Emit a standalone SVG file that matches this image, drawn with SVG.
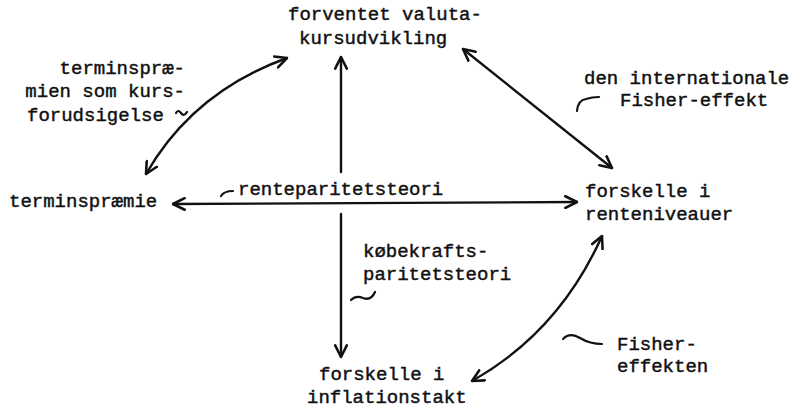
<svg xmlns="http://www.w3.org/2000/svg" width="804" height="409" viewBox="0 0 804 409">
  <style>
    .t { font-family: "Liberation Mono", "DejaVu Sans Mono", monospace; font-size: 19px; fill: #111; stroke: #111; stroke-width: 0.45; }
    .c { fill: none; stroke: #111; stroke-width: 2.4; stroke-linecap: round; }
    .sw { fill: none; stroke: #111; stroke-width: 2.2; stroke-linecap: round; stroke-linejoin: round; }
  </style>
  <defs>
    <marker id="head" viewBox="0 0 12 12" refX="11" refY="6" markerWidth="14" markerHeight="14" markerUnits="userSpaceOnUse" orient="auto-start-reverse">
      <path d="M1,1 L11,6 L1,11" fill="none" stroke="#111" stroke-width="2.2" stroke-linecap="round" stroke-linejoin="round"/>
    </marker>
  </defs>
  <rect width="804" height="409" fill="#fff"/>

  <g id="connectors">
    <!-- terminspræmie <-> forventet valutakursudvikling -->
    <path class="c" d="M146,174 Q193,92 287,58" marker-start="url(#head)" marker-end="url(#head)"/>
    <!-- upward arrow to forventet valutakursudvikling -->
    <path class="c" d="M341,172 L341,57" marker-end="url(#head)"/>
    <!-- forventet valutakursudvikling <-> forskelle i renteniveauer -->
    <path class="c" d="M463,49 L612,168" marker-start="url(#head)" marker-end="url(#head)"/>
    <!-- terminspræmie <-> forskelle i renteniveauer -->
    <path class="c" d="M173,204 L577,202" marker-start="url(#head)" marker-end="url(#head)"/>
    <!-- downward arrow to forskelle i inflationstakt -->
    <path class="c" d="M341,214 L341,357" marker-end="url(#head)"/>
    <!-- forskelle i inflationstakt <-> forskelle i renteniveauer -->
    <path class="c" d="M472,381 Q559,332 602,236" marker-start="url(#head)" marker-end="url(#head)"/>
  </g>

  <g id="forventet">
    <text class="t" x="288" y="20">forventet valuta-</text>
    <text class="t" x="299" y="44">kursudvikling</text>
  </g>

  <g id="terminspraemie">
    <text class="t" x="9" y="207">terminspræmie</text>
  </g>

  <g id="renteniveauer">
    <text class="t" x="585" y="197">forskelle i</text>
    <text class="t" x="585" y="220">renteniveauer</text>
  </g>

  <g id="inflationstakt">
    <text class="t" x="319" y="380">forskelle i</text>
    <text class="t" x="307" y="403">inflationstakt</text>
  </g>

  <g id="label-kursforudsigelse">
    <text class="t" x="185" y="74" text-anchor="end">terminspræ-</text>
    <text class="t" x="185" y="97" text-anchor="end">mien som kurs-</text>
    <text class="t" x="27" y="121">forudsigelse</text>
    <path class="sw" d="M176,113 Q178,109 181,113 Q184,117 187,112"/>
  </g>

  <g id="label-renteparitet">
    <path class="sw" d="M221,196 Q224,191 233,191"/>
    <text class="t" x="238" y="195">renteparitetsteori</text>
  </g>

  <g id="label-internationale-fisher">
    <text class="t" x="584" y="84">den internationale</text>
    <text class="t" x="620" y="106">Fisher-effekt</text>
    <path class="sw" d="M577,111 Q578,100 586,99 Q592,97 599,97"/>
  </g>

  <g id="label-koebekraft">
    <text class="t" x="363" y="257">købekrafts-</text>
    <text class="t" x="363" y="280">paritetsteori</text>
    <path class="sw" d="M351,300 Q356,295 363,298 Q371,301 375,292"/>
  </g>

  <g id="label-fisher">
    <path class="sw" d="M563,339 Q570,332 580,338 Q590,344 602,344"/>
    <text class="t" x="617" y="350">Fisher-</text>
    <text class="t" x="617" y="372">effekten</text>
  </g>
</svg>
